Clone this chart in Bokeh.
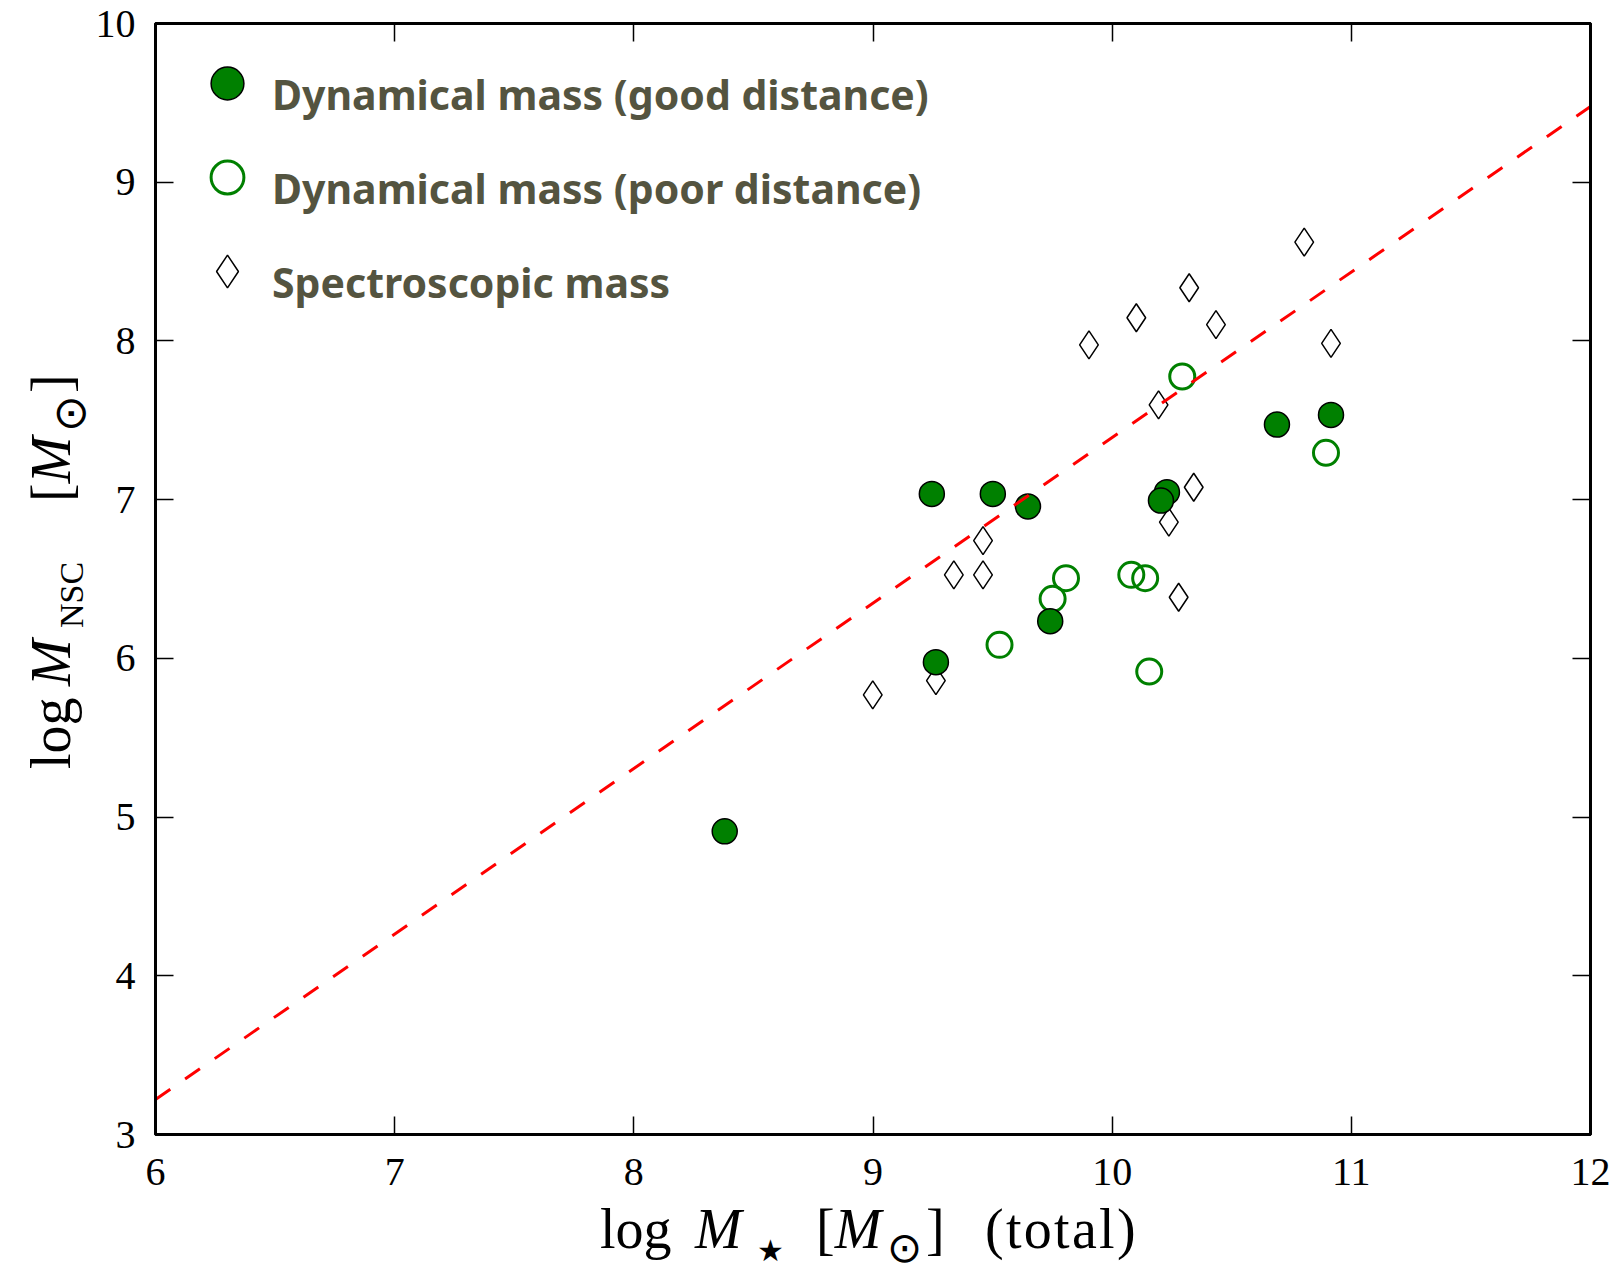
from bokeh.plotting import figure
from bokeh.models import (Range1d, FixedTicker, LinearAxis, Legend, LegendItem, Div,
                          CustomJSTickFormatter)
from bokeh.layouts import row, column
from bokeh.embed import file_html
from bokeh.resources import INLINE

# ---- data ----
good_x = [8.38, 9.246, 9.263, 9.501, 9.648, 9.741, 10.229, 10.204, 10.689, 10.915]
good_y = [4.91, 7.036, 5.976, 7.036, 6.957, 6.234, 7.047, 6.994, 7.473, 7.534]

poor_x = [9.529, 9.751, 9.807, 10.080, 10.138, 10.155, 10.293, 10.894]
poor_y = [6.085, 6.375, 6.505, 6.526, 6.505, 5.917, 7.776, 7.295]

spec_x = [8.999, 9.263, 9.338, 9.460, 9.460, 9.903, 10.101, 10.194, 10.237, 10.278,
          10.322, 10.341, 10.434, 10.803, 10.915]
spec_y = [5.770, 5.860, 6.526, 6.526, 6.742, 7.975, 8.146, 7.597, 6.858, 6.385,
          8.335, 7.078, 8.103, 8.622, 7.985]

fit_x = [6.0, 12.0]
fit_y = [3.22, 9.477]

x_ticks = [6, 7, 8, 9, 10, 11, 12]
y_ticks = [3, 4, 5, 6, 7, 8, 9, 10]

legend_labels = ["Dynamical mass (good distance)",
                 "Dynamical mass (poor distance)",
                 "Spectroscopic mass"]

# ---- layout geometry ----
W, H = 1616, 1265
YDIV_W = 90
FIG_W = W - YDIV_W
FIG_H = 1209
XDIV_H = H - FIG_H

p = figure(width=FIG_W, height=FIG_H, output_backend="svg", toolbar_location=None,
           x_range=Range1d(6, 12), y_range=Range1d(3, 10),
           min_border_left=155 - YDIV_W, min_border_right=26, min_border_top=23,
           min_border_bottom=FIG_H - 23 - 1111)
p.xgrid.visible = False
p.ygrid.visible = False
p.outline_line_color = "black"
p.outline_line_width = 3
p.background_fill_color = "white"
p.border_fill_color = "white"

TICK_FONT = "Liberation Serif"

def style_axis(ax, ticks, show_labels, standoff=20):
    ax.ticker = FixedTicker(ticks=ticks)
    ax.major_tick_in = 18
    ax.major_tick_out = 0
    ax.minor_tick_in = 0
    ax.minor_tick_out = 0
    ax.major_tick_line_color = "black"
    ax.major_tick_line_width = 1.5
    ax.axis_line_color = "black"
    ax.axis_line_width = 3
    ax.major_label_text_font = TICK_FONT
    ax.major_label_text_font_size = "40px"
    ax.major_label_text_color = "black"
    ax.major_label_standoff = standoff
    if not show_labels:
        ax.formatter = CustomJSTickFormatter(code="return ''")
        ax.major_label_standoff = 0

style_axis(p.xaxis[0], x_ticks, True, standoff=24)
style_axis(p.yaxis[0], y_ticks, True, standoff=20)
right_ax = LinearAxis()
top_ax = LinearAxis()
style_axis(right_ax, y_ticks, False)
style_axis(top_ax, x_ticks, False)
p.add_layout(right_ax, "right")
p.add_layout(top_ax, "above")

GREEN = "#008000"

r_spec = p.scatter(spec_x, spec_y, marker="diamond", size=28, fill_color="white",
                   line_color="black", line_width=1.5)
r_poor = p.scatter(poor_x, poor_y, marker="circle", size=25, fill_color=None,
                   line_color=GREEN, line_width=3)
r_good = p.scatter(good_x, good_y, marker="circle", size=25, fill_color=GREEN,
                   line_color="black", line_width=1.5)
p.line(fit_x, fit_y, line_color="red", line_width=3, line_dash="18 18")

# legend: markers and texts in two aligned legends so the text can sit a bit lower
r_blank = p.scatter([], [], size=0, fill_alpha=0, line_alpha=0)
common = dict(orientation="vertical", glyph_height=82, label_height=82, spacing=12,
              padding=0, margin=0, border_line_color=None, background_fill_alpha=0,
              label_text_font="Noto Sans", label_text_font_style="bold",
              label_text_font_size="41px", label_text_color="#545440")
marker_legend = Legend(items=[LegendItem(label=" ", renderers=[r_good]),
                              LegendItem(label=" ", renderers=[r_poor]),
                              LegendItem(label=" ", renderers=[r_spec])],
                       location=(31, 822), glyph_width=82, label_standoff=0, **common)
text_legend = Legend(items=[LegendItem(label=lab, renderers=[r_blank]) for lab in legend_labels],
                     location=(116, 811), glyph_width=1, label_standoff=0, **common)
p.add_layout(marker_legend, "center")
p.add_layout(text_legend, "center")

# ---- axis titles as HTML text (italic symbols and subscripts) ----
SERIF = "'Liberation Serif', serif"
SYM = "'DejaVu Sans', sans-serif"
SHIFT = 11  # correction for the offset of the Div content box

def span(text, left, baseline, size, font=SERIF, italic=False, rotate=False,
         ratio=0.8375, lh=1.0, extra=""):
    base = (f"position:absolute; left:{left}px; font-family:{font}; "
            f"font-size:{size}px; line-height:{lh}; white-space:nowrap; color:black; "
            f"font-style:{'italic' if italic else 'normal'}; {extra}")
    if rotate:
        style = (base + f"top:{baseline - SHIFT}px; transform-origin:0 0; "
                 f"transform:rotate(-90deg) translateY(-{ratio * size:.1f}px);")
    else:
        style = base + f"top:{baseline - ratio * size - SHIFT:.1f}px;"
    return f'<span style="{style}">{text}</span>'

SYMKW = dict(font=SYM, ratio=0.696, lh=0.7)

# x title: positions relative to the div (div origin at canvas x=YDIV_W, y=FIG_H)
ox, oy = YDIV_W, FIG_H
x_parts = [
    span("log", 600 - ox, 1247 - oy, 56),
    span("M", 695 - ox, 1247 - oy, 56, italic=True),
    span("\u2605", 757 - ox, 1260 - oy, 30, **SYMKW),
    span("[<i>M</i>", 816 - ox, 1247 - oy, 56),
    span("\u2299", 887 - ox, 1261 - oy, 42, **SYMKW),
    span("]", 926 - ox, 1247 - oy, 56),
    span("(total)", 985 - ox, 1247 - oy, 56, extra="letter-spacing:2.3px;"),
]
x_div = Div(text='<div style="position:relative; width:100%; height:100%; overflow:visible">'
            + "".join(x_parts) + "</div>",
            width=FIG_W, height=XDIV_H, margin=0, styles={"overflow": "visible"})

y_parts = [
    span("log", 70, 768, 56, rotate=True),
    span("M", 70, 685, 56, italic=True, rotate=True),
    span("NSC", 83, 627, 34, rotate=True),
    span("[<i>M</i>", 70, 501, 56, rotate=True),
    span("\u2299", 86, 431, 44, rotate=True, **SYMKW),
    span("]", 70, 392, 56, rotate=True),
]
y_div = Div(text='<div style="position:relative; width:100%; height:100%; overflow:visible">'
            + "".join(y_parts) + "</div>",
            width=YDIV_W, height=H, margin=0, styles={"overflow": "visible"})

layout = row(y_div, column(p, x_div, spacing=0), spacing=0)

open("out.html", "w").write(file_html(layout, INLINE))
